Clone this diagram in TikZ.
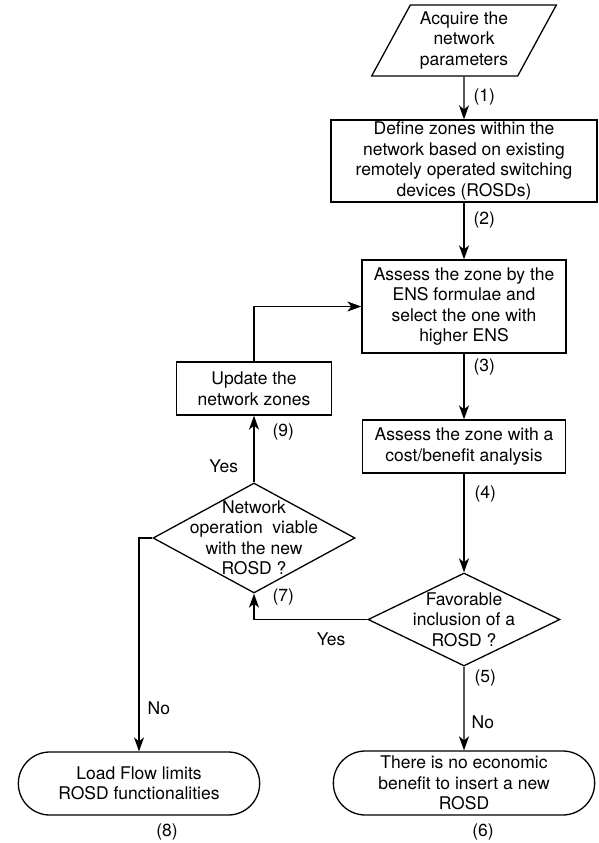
\documentclass[tikz,border=0pt]{standalone}
\usepackage{fontspec}
\setmainfont{TeX Gyre Heros}
\usetikzlibrary{shapes,arrows.meta,positioning}
\tikzstyle{block} = [draw=black, rectangle, align=center, inner ysep=1pt]
\tikzstyle{io} = [draw=black, trapezium, trapezium left angle=62, trapezium right angle=118, trapezium stretches=true, align=center]
\tikzstyle{decision} = [draw=black, diamond, inner sep=0pt]
\tikzstyle{term} = [draw=black, rounded rectangle, align=center, inner ysep=1pt]
\tikzstyle{num} = [anchor=west, inner sep=1pt]

\begin{document}
\begin{tikzpicture}[x=1pt, y=1pt, line width=1.3pt, >={Stealth[length=14pt,width=10pt,inset=4pt]}, font=\fontsize{17.5}{20.5}\selectfont]
	\useasboundingbox (0,0) rectangle (599,-843);

	\node [io, minimum width=185pt, minimum height=71pt] (acquire) at (464,-40.5) {Acquire the\\network\\parameters};
	\node [block, minimum width=266pt, minimum height=82pt] (define) at (464,-161) {Define zones within the\\network based on existing\\remotely operated switching\\devices (ROSDs)};
	\node [block, minimum width=204pt, minimum height=93pt] (assess) at (464,-306.5) {Assess the zone by the\\ENS formulae and\\select the one with\\higher ENS};
	\node [block, minimum width=203pt, minimum height=53pt] (cost) at (464,-446.5) {Assess the zone with a\\cost/benefit analysis};
	\node [decision, minimum width=192pt, minimum height=93pt, label={[align=center]center:Favorable\\inclusion of a\\ROSD ?}] (favor) at (464,-619.5) {};
	\node [block, minimum width=155pt, minimum height=53pt] (update) at (254,-388.5) {Update the\\network zones};
	\node [decision, minimum width=202pt, minimum height=110pt, label={[align=center]center:Network\\operation~ viable\\with the new\\ROSD ?}] (viable) at (254,-538) {};
	\node [term, minimum width=248pt, minimum height=63pt] (loadflow) at (139,-783.5) {Load Flow limits\\ROSD functionalities};
	\node [term, minimum width=268pt, minimum height=64pt] (noben) at (464,-783) {There is no economic\\benefit to insert a new\\ROSD};
	\node (lab8) at (167,-832) {(8)};
	\node (lab6) at (483,-832) {(6)};

	\draw [->] (acquire) -- node[num, xshift=8pt, pos=.48] {(1)} (define);
	\draw [->] (define) -- node[num, xshift=8pt, pos=.31] {(2)} (assess);
	\draw [->] (assess) -- node[num, xshift=8pt, pos=.21] {(3)} (cost);
	\draw [->] (cost) -- node[num, xshift=9pt, pos=.21] {(4)} (favor);
	\draw [->] (favor) -- node[num, xshift=9pt, pos=.14] {(5)} node[num, xshift=6pt, pos=.66] {No} (noben);
	\draw [->] (favor.west) -| node[below, pos=.16, yshift=-9pt] {Yes} node[num, xshift=17pt, pos=.93] {(7)} (viable.south);
	\draw [->] (viable) -- node[num, xshift=17pt, pos=.75] {(9)} node[anchor=east, xshift=-12pt, pos=.24] {Yes} (update);
	\draw [->] (update.north) |- (assess.west);
	\draw [->] (viable.west) -| node[num, xshift=7pt, pos=.9] {No} (loadflow.north);
\end{tikzpicture}
\end{document}
